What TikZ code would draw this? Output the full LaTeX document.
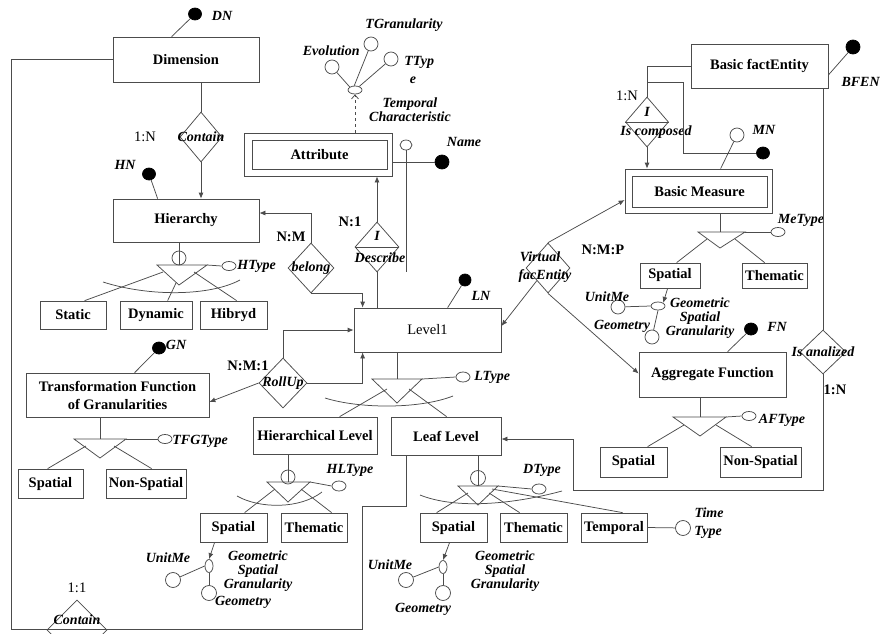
\documentclass[tikz,border=0pt]{standalone}
\usepackage{fontspec}
\setmainfont{Liberation Serif}
\usetikzlibrary{shapes.geometric,arrows.meta}
\definecolor{lc}{gray}{0.3}
\newcommand\eFont{\bfseries\fontsize{14.5}{15}\selectfont}
\newcommand\aFont{\bfseries\itshape\fontsize{14}{14}\selectfont}
\newcommand\rFont{\fontsize{14.5}{15}\selectfont}
\begin{document}
\begin{tikzpicture}[x=1pt,y=-1pt,line width=0.75pt,color=lc,text=black,
 ebox/.style={draw=lc,rectangle,inner sep=0pt,font=\eFont},
 dmd/.style={draw=lc,diamond,inner sep=0pt},
 bdot/.style={ellipse,fill=black,draw=black,minimum width=13pt,minimum height=12pt,inner sep=0pt},
 wcirc/.style={circle,draw=lc,fill=white,minimum size=14pt,inner sep=0pt},
 sell/.style={ellipse,draw=lc,fill=white,minimum width=14pt,minimum height=9pt,inner sep=0pt},
 vell/.style={ellipse,draw=lc,fill=white,minimum width=8pt,minimum height=13pt,inner sep=0pt},
 alab/.style={font=\aFont,inner sep=0pt},
 blab/.style={font=\eFont,inner sep=0pt},
 rlab/.style={font=\rFont,inner sep=0pt},
 arr/.style={-{Latex[length=6pt,width=5pt]}},
]
\useasboundingbox (0,0) rectangle (882,633);
\clip (0,0) rectangle (882,633);
\fill[white] (0,0) rectangle (882,633);

% ---------------- nodes ----------------
% Dimension
\node[ebox,minimum width=146pt,minimum height=45pt] (dim) at (186,59.5) {Dimension};
\node[bdot] (dn) at (195,14) {};
\node[alab] (dnl) at (222,16) {DN};
\node[dmd,minimum width=42pt,minimum height=50pt] (con1) at (201,137) {};
\node[alab] (con1l) at (con1) {Contain};
\node[rlab] (con1c) at (145,137) {1:N};

% Hierarchy
\node[ebox,minimum width=146pt,minimum height=43pt] (hier) at (186,220.5) {Hierarchy};
\node[bdot] (hn) at (149,174) {};
\node[alab] (hnl) at (125,165) {HN};
\node[wcirc] (hc) at (179,258) {};
\coordinate (hta) at (157,265);
\coordinate (htb) at (207,265);
\coordinate (htc) at (179,285);
\coordinate (htt) at (179,265);
\node[sell] (hty) at (229,266) {};
\node[alab,anchor=west] (htyl) at (237,266) {HType};
\node[ebox,minimum width=66pt,minimum height=28pt] (stat) at (73,315) {Static};
\node[ebox,minimum width=72pt,minimum height=28pt] (dyn) at (156,315) {Dynamic};
\node[ebox,minimum width=67pt,minimum height=28pt] (hib) at (233.5,315) {Hibryd};

% Transformation function
\node[ebox,minimum width=183pt,minimum height=44pt,align=center,font=\bfseries\fontsize{14.5}{18}\selectfont] (tf) at (117.5,395) {Transformation Function\\of Granularities};
\node[bdot] (gn) at (159,348) {};
\node[alab] (gnl) at (176,345) {GN};
\coordinate (tta) at (74,439);
\coordinate (ttb) at (126,439);
\coordinate (ttc) at (100,458);
\coordinate (ttt) at (100,439);
\node[sell] (tft) at (165,439) {};
\node[alab,anchor=west] (tftl) at (172,441) {TFGType};
\node[ebox,minimum width=65pt,minimum height=29pt] (tsp) at (50.5,483.5) {Spatial};
\node[ebox,minimum width=80pt,minimum height=29pt] (tns) at (146,483.5) {Non-Spatial};

% Attribute
\node[ebox,minimum width=148pt,minimum height=43pt] (attr) at (318,154.5) {};
\node[ebox,minimum width=135pt,minimum height=29pt] (attri) at (319.5,154.5) {Attribute};
\node[bdot,minimum width=14pt,minimum height=14pt] (nm) at (442,162) {};
\node[alab] (nml) at (464,142) {Name};
\node[sell,minimum width=12pt,minimum height=10pt] (dsa) at (406,145) {};
\coordinate (dsae) at (406,272);
\node[sell,minimum height=8pt] (tc) at (355,90) {};
\node[wcirc] (ev) at (332,67) {};
\node[wcirc] (tg) at (371,44) {};
\node[wcirc] (tt) at (391,59) {};
\node[alab,anchor=east] (evl) at (360,51) {Evolution};
\node[alab] (tgl) at (404,25) {TGranularity};
\node[alab,anchor=west] (ttl) at (404,62) {TTyp};
\node[alab] (ttl2) at (413,80) {e};
\node[alab,align=center] (tcl) at (410,110) {Temporal\\Characteristic};

% Describe
\node[dmd,minimum width=44pt,minimum height=50pt] (desc) at (377,247) {};
\node[alab] (descl1) at (377,236) {I};
\node[alab] (descl2) at (380,258) {Describe};
\node[blab] (descc) at (350,222) {N:1};

% belong
\node[dmd,minimum width=46pt,minimum height=50pt] (bel) at (311,268) {};
\node[alab] (bell) at (bel) {belong};
\node[blab] (belc) at (291,237) {N:M};

% Level1
\node[ebox,minimum width=147pt,minimum height=44pt,font=\rFont] (lev) at (427.5,330) {Level1};
\node[bdot,minimum width=12pt] (ln) at (465,280) {};
\node[alab] (lnl) at (481,296) {LN};
\coordinate (lta) at (372,379);
\coordinate (ltb) at (422,379);
\coordinate (ltc) at (397,403);
\coordinate (ltt) at (397,379);
\coordinate (ltl) at (387,389);
\coordinate (ltr) at (409,389);
\node[sell,minimum height=10pt] (lty) at (463,377) {};
\node[alab,anchor=west] (ltyl) at (474,377) {LType};

% RollUp
\node[dmd,minimum width=48pt,minimum height=50pt] (roll) at (283,383) {};
\node[alab] (rolll) at (roll) {RollUp};
\node[blab] (rollc) at (248,366) {N:M:1};

% Hierarchical Level
\node[ebox,minimum width=124pt,minimum height=37pt] (hl) at (315,435.5) {Hierarchical Level};
\node[wcirc] (hlc) at (288,477) {};
\coordinate (hla) at (267,482);
\coordinate (hlb) at (310,482);
\coordinate (hlcc) at (288,502);
\coordinate (hlt) at (288,482);
\coordinate (hll) at (275,489);
\coordinate (hlr) at (301,489);
\node[sell,minimum height=10pt] (hlty) at (339,486) {};
\node[alab] (hltyl) at (350,470) {HLType};
\node[ebox,minimum width=67pt,minimum height=29pt] (hsp) at (233.5,527.5) {Spatial};
\node[ebox,minimum width=66pt,minimum height=29pt] (hth) at (314,527.5) {Thematic};
\node[vell] (hge) at (209,566) {};
\node[wcirc,minimum size=15pt] (hum) at (173,580) {};
\node[wcirc,minimum size=15pt] (hgm) at (209,593) {};
\node[alab] (huml) at (168,558) {UnitMe};
\node[alab] (hgml) at (243,602) {Geometry};
\node[alab,align=center] (hgsg) at (258,571) {Geometric\\Spatial\\Granularity};

% Leaf Level
\node[ebox,minimum width=110pt,minimum height=38pt] (leaf) at (446,436) {Leaf Level};
\node[wcirc,minimum size=15pt] (lfc) at (478,478) {};
\coordinate (lfa) at (458,486);
\coordinate (lfb) at (498,486);
\coordinate (lfcc) at (478,505);
\coordinate (lft) at (478,486);
\coordinate (lfl) at (468,493);
\coordinate (lfr) at (489,493);
\coordinate (lfr2) at (492,489);
\node[sell,minimum height=10pt] (dty) at (539,489) {};
\node[alab] (dtyl) at (542,470) {DType};
\node[ebox,minimum width=67pt,minimum height=29pt] (lsp) at (453.5,527.5) {Spatial};
\node[ebox,minimum width=67pt,minimum height=29pt] (lth) at (533.5,527.5) {Thematic};
\node[ebox,minimum width=66pt,minimum height=29pt] (ltp) at (614,527.5) {Temporal};
\node[wcirc,minimum size=15pt] (ttyc) at (683,528) {};
\node[alab] (ttyl1) at (709,513) {Time};
\node[alab] (ttyl2) at (708,532) {Type};
\node[vell] (lge) at (443,567) {};
\node[wcirc,minimum size=15pt] (lum) at (406,580) {};
\node[wcirc,minimum size=15pt] (lgm) at (443,593) {};
\node[alab] (luml) at (390,565) {UnitMe};
\node[alab] (lgml) at (423,609) {Geometry};
\node[alab,align=center] (lgsg) at (505,571) {Geometric\\Spatial\\Granularity};

% Basic factEntity
\node[ebox,minimum width=137pt,minimum height=44pt] (bfe) at (759.5,66) {Basic factEntity};
\node[bdot,minimum width=14pt,minimum height=14pt] (bfen) at (853,47) {};
\node[alab,anchor=east] (bfenl) at (880,82) {BFEN};
\node[dmd,minimum width=43pt,minimum height=50pt] (icomp) at (647,122) {};
\node[alab] (icompl1) at (647,112) {I};
\node[alab] (icompl2) at (656,132) {Is composed};
\node[rlab] (icompc) at (627,96) {1:N};
\coordinate (icj) at (647,82);
\coordinate (icd) at (683,153);
\node[bdot] (icdot) at (763,153) {};

% Basic Measure
\node[ebox,minimum width=147pt,minimum height=44pt] (bm) at (698.5,191) {};
\node[ebox,minimum width=135pt,minimum height=31pt] (bmi) at (699.5,191.5) {Basic Measure};
\node[wcirc] (mn) at (737,135) {};
\node[alab] (mnl) at (764,130) {MN};
\coordinate (bta) at (698,232);
\coordinate (btb) at (745,232);
\coordinate (btc) at (720,248);
\coordinate (btt) at (720,232);
\coordinate (btl) at (707,239);
\coordinate (btr) at (735,239);
\node[sell] (mty) at (778,232) {};
\node[alab] (mtyl) at (801,220) {MeType};
\node[ebox,minimum width=60pt,minimum height=25pt] (bsp) at (670,275.5) {Spatial};
\node[ebox,minimum width=65pt,minimum height=25pt] (bth) at (774.5,275.5) {Thematic};
\node[sell,minimum height=8pt] (bge) at (658,306) {};
\node[wcirc] (bum) at (618,307) {};
\node[wcirc] (bgm) at (652,337) {};
\node[alab] (buml) at (607,297) {UnitMe};
\node[alab] (bgml) at (622,326) {Geometry};
\node[alab,align=center] (bgsg) at (700,318) {Geometric\\Spatial\\Granularity};

% Virtual facEntity
\node[dmd,minimum width=44pt,minimum height=50pt] (vfe) at (548,268) {};
\node[alab] (vfel1) at (540,257) {Virtual};
\node[alab] (vfel2) at (545,276) {facEntity};
\node[blab] (vfec) at (603,250) {N:M:P};

% Aggregate Function
\node[ebox,minimum width=147pt,minimum height=45pt] (agg) at (712.5,374.5) {Aggregate Function};
\node[bdot] (fn) at (751,329) {};
\node[alab] (fnl) at (777,327) {FN};
\coordinate (ata) at (673,417);
\coordinate (atb) at (726,417);
\coordinate (atc) at (700,436);
\coordinate (att) at (700,417);
\coordinate (atl) at (684,425);
\coordinate (atr) at (716,425);
\node[sell] (aft) at (749,416) {};
\node[alab] (aftl) at (782,420) {AFType};
\node[ebox,minimum width=67pt,minimum height=30pt] (asp) at (633.5,462) {Spatial};
\node[ebox,minimum width=81pt,minimum height=30pt] (ans) at (760.5,462) {Non-Spatial};

% Is analized
\node[dmd,minimum width=46pt,minimum height=44pt] (isan) at (823,352) {};
\node[alab] (isanl) at (isan) {Is analized};
\node[blab] (isanc) at (835,390) {1:N};
\coordinate (cturn) at (573,490);

% Contain 1:1
\node[dmd,minimum width=60pt,minimum height=60pt] (con2) at (77,630) {};
\node[alab] (con2l) at (77,620) {Contain};
\node[rlab] (con2c) at (77,588) {1:1};
\coordinate (dc1) at (11,629);
\coordinate (dc2) at (362,506);

% ---------------- connectors ----------------
\draw ([xshift=59pt]dim.north west) -- (dn);
\draw (dim.south -| con1) -- (con1.north);
\draw[arr] (con1.south) -- (con1.south |- hier.north);
\draw (dim.west) -| (dc1) -| (dc2) -| ([xshift=16pt]leaf.south west);

\draw ([xshift=45pt]hier.north west) -- (hn);
\draw (hier.south -| htt) -- (htt);
\draw (hta) -- (htb) -- (htc) -- cycle;
\draw (htb) -- (hty.west);
\draw (103,282) .. controls (150,297) and (210,296) .. (240,280);
\draw ([xshift=45pt]stat.north west) -- (163,272);
\draw ([xshift=48pt]dyn.north west) -- (176,283);
\draw ([xshift=37pt]hib.north west) -- (194,272);

\draw ([xshift=109pt]tf.north west) -- (gn);
\draw (tf.south -| ttt) -- (ttt);
\draw (tta) -- (ttb) -- (ttc) -- cycle;
\draw (ttb) -- (tft.west);
\draw ([xshift=30pt]tsp.north west) -- (86,446);
\draw ([xshift=46pt]tns.north west) -- (114,446);

\draw (attr.east |- nm) -- (nm);
\draw (dsa.south) -- (dsae);
\draw[dashed,-{Straight Barb[length=4pt,width=7pt]}] (attr.north -| tc) -- (tc.south);
\draw (tc.150) -- (ev);
\draw (tc.100) -- (tg);
\draw (tc.40) -- (tt);

\draw (lev.north -| desc) -- (desc.south);
\draw[arr] (desc.north) -- (desc.north |- attr.south);
\draw (desc.west) -- (desc.east);

\draw[arr] (bel.north) |- ([yshift=7.5pt]hier.east);
\draw[arr] (bel.south) -| ([xshift=9pt]lev.north west);

\draw[arr] (roll.north) |- (lev.west);
\draw[arr] (roll.east) -| ([xshift=9pt]lev.south west);
\draw[arr] (roll.west) -- ([yshift=-7pt]tf.east);

\draw ([xshift=94pt]lev.north west) -- (ln);
\draw (lev.south -| ltt) -- (ltt);
\draw (lta) -- (ltb) -- (ltc) -- cycle;
\draw (ltb) -- (lty.west);
\draw (325,398) .. controls (360,409) and (420,409) .. (453,396);
\draw ([xshift=87pt]hl.north west) -- (ltl);
\draw ([xshift=56pt]leaf.north west) -- (ltr);

\draw (hl.south -| hlt) -- (hlt);
\draw (hla) -- (hlb) -- (hlcc) -- cycle;
\draw (hlb) -- (hlty.west);
\draw (237,496) .. controls (260,509) and (300,509) .. (322,492);
\draw ([xshift=45pt]hsp.north west) -- (hll);
\draw ([xshift=51pt]hth.north west) -- (hlr);
\draw[arr] ([xshift=15pt]hsp.south west) -- (hge.north);
\draw (hge.west) -- (hum);
\draw (hge.south) -- (hgm.north);

\draw (leaf.south -| lft) -- (lft);
\draw (lfa) -- (lfb) -- (lfcc) -- cycle;
\draw (lfb) -- (dty.west);
\draw (420,495) .. controls (455,509) and (510,505) .. (562,491);
\draw ([xshift=17pt]lsp.north west) -- (lfl);
\draw ([xshift=20pt]lth.north west) -- (lfr);
\draw ([xshift=42pt]ltp.north west) -- (lfr2);
\draw (ltp.east) -- (ttyc);
\draw[arr] ([xshift=30pt]lsp.south west) -- (lge.north);
\draw (lge.west) -- (lum);
\draw (lge.south) -- (lgm.north);
\draw[arr] (isan.south) |- (cturn) |- ([yshift=-3pt]leaf.east);

\draw ([yshift=-9pt]bfe.east) -- (bfen);
\draw (bfe.west) -| (icomp.north);
\draw[arr] (icomp.south) -- (icomp.south |- bm.north);
\draw (icomp.west) -- (icomp.east);
\draw (icj) -| (icd) -- (icdot);
\draw (bfe.south -| isan) -- (isan.north);

\draw ([xshift=96pt]bm.north west) -- (mn);
\draw (bm.south -| btt) -- (btt);
\draw (bta) -- (btb) -- (btc) -- cycle;
\draw (btb) -- (mty.west);
\draw ([xshift=37pt]bsp.north west) -- (btl);
\draw ([xshift=23pt]bth.north west) -- (btr);
\draw[arr] ([xshift=28pt]bsp.south west) -- (bge.north east);
\draw (bge.west) -- (bum);
\draw (bge.south) -- (bgm);

\draw[arr] (vfe.north) -- ([yshift=-9pt]bm.west);
\draw[arr] (vfe.south west) -- ([yshift=4pt]lev.east);
\draw[arr] (vfe.south) -- ([yshift=1pt]agg.west);

\draw ([xshift=89pt]agg.north west) -- (fn);
\draw (agg.south -| att) -- (att);
\draw (ata) -- (atb) -- (atc) -- cycle;
\draw (atb) -- (aft.west);
\draw ([xshift=48pt]asp.north west) -- (atl);
\draw ([xshift=32pt]ans.north west) -- (atr);
\end{tikzpicture}
\end{document}
